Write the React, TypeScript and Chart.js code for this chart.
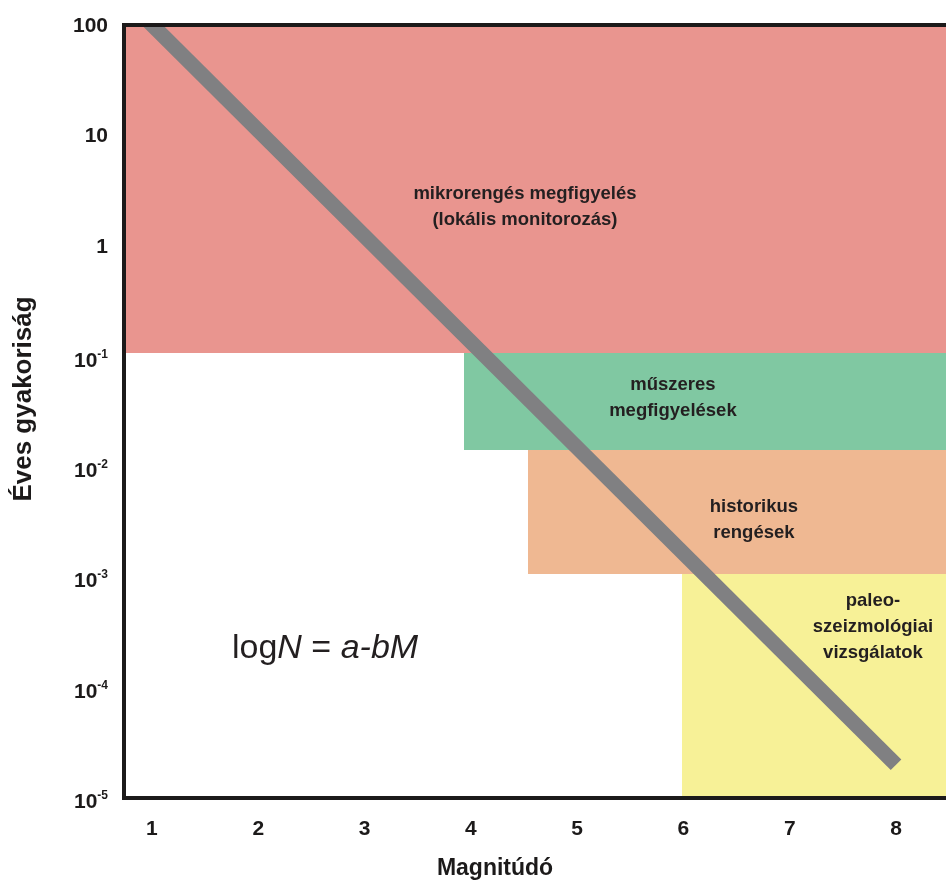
import React, { useEffect, useRef } from 'react';
import { Chart, registerables } from 'chart.js';

Chart.register(...registerables);

// ---- axes ----
const magnitudeTicks = [1, 2, 3, 4, 5, 6, 7, 8];
const frequencyTickExponents = [2, 1, 0, -1, -2, -3, -4, -5];
const magnitudeRange = [0.737, 8.47];
const frequencyRange = [1e-5, 100];
const xAxisTitle = 'Magnitúdó';
const yAxisTitle = 'Éves gyakoriság';

// ---- Gutenberg–Richter line ----
const grLineMagnitude = [0.85, 8];
const grLineFrequency = [140, 2e-5];

// ---- observation bands ----
const bandStartMagnitude = [0.737, 3.935, 4.537, 5.99];
const bandTopFrequency = [100, 0.107, 0.01416, 0.00107];
const bandBottomFrequency = [0.107, 0.01416, 0.00107, 1e-5];
const bandColors = ['#E9958F', '#80C8A2', '#EFB892', '#F7F197'];
const bandLabelLines = [
  ['mikrorengés megfigyelés', '(lokális monitorozás)'],
  ['műszeres', 'megfigyelések'],
  ['historikus', 'rengések'],
  ['paleo-', 'szeizmológiai', 'vizsgálatok'],
];
const bandLabelMagnitude = [4.509, 5.901, 6.663, 7.783];
const bandLabelFrequency = [2.25, 0.0419, 0.00333, 3.54e-4];

// ---- equation ----
const equationParts = ['log', 'N', ' = ', 'a-bM'];
const equationItalic = [false, true, false, true];
const equationMagnitude = 1.753;
const equationFrequency = 1.85e-4;

const FONT = "'Liberation Sans', Arial, Helvetica, sans-serif";
const AXIS_COLOR = '#1c1a1a';
const TEXT_COLOR = '#231f20';

const bandsPlugin = {
  id: 'bands',
  beforeDatasetsDraw(chart: any) {
    const { ctx, chartArea, scales } = chart;
    const x = scales.x;
    const y = scales.y;
    ctx.save();
    ctx.beginPath();
    ctx.rect(chartArea.left, chartArea.top, chartArea.width, chartArea.height);
    ctx.clip();
    bandStartMagnitude.forEach((m, i) => {
      const x0 = Math.round(x.getPixelForValue(m));
      const x1 = Math.round(x.getPixelForValue(magnitudeRange[1]));
      const y0 = Math.round(y.getPixelForValue(bandTopFrequency[i]));
      const y1 = Math.round(y.getPixelForValue(bandBottomFrequency[i]));
      ctx.fillStyle = bandColors[i];
      ctx.fillRect(x0, y0, x1 - x0, y1 - y0);
    });
    ctx.restore();
  },
};

const textPlugin = {
  id: 'texts',
  afterDraw(chart: any) {
    const { ctx, scales } = chart;
    const x = scales.x;
    const y = scales.y;
    ctx.save();

    // band labels
    ctx.fillStyle = TEXT_COLOR;
    ctx.textAlign = 'center';
    ctx.textBaseline = 'middle';
    ctx.font = `bold 18.5px ${FONT}`;
    const lh = 26;
    bandLabelLines.forEach((lines, i) => {
      const cx = x.getPixelForValue(bandLabelMagnitude[i]);
      const cy = y.getPixelForValue(bandLabelFrequency[i]);
      const start = cy - ((lines.length - 1) * lh) / 2;
      lines.forEach((ln, j) => ctx.fillText(ln, cx, start + j * lh));
    });

    // equation
    ctx.textAlign = 'left';
    ctx.textBaseline = 'alphabetic';
    let ex = x.getPixelForValue(equationMagnitude);
    const ey = y.getPixelForValue(equationFrequency);
    equationParts.forEach((p, i) => {
      ctx.font = `${equationItalic[i] ? 'italic ' : ''}34px ${FONT}`;
      ctx.fillText(p, ex, ey);
      ex += ctx.measureText(p).width;
    });

    // y tick labels (with superscript exponents)
    ctx.fillStyle = AXIS_COLOR;
    ctx.textBaseline = 'middle';
    const right = 108;
    frequencyTickExponents.forEach((e) => {
      const ty = y.getPixelForValue(Math.pow(10, e));
      if (e >= 0) {
        ctx.font = `bold 21px ${FONT}`;
        ctx.textAlign = 'right';
        ctx.fillText(String(Math.pow(10, e)), right, ty + 1);
      } else {
        ctx.font = `bold 12px ${FONT}`;
        const sup = String(e);
        const supW = ctx.measureText(sup).width;
        ctx.textAlign = 'right';
        ctx.fillText(sup, right, ty - 2);
        ctx.font = `bold 21px ${FONT}`;
        ctx.fillText('10', right - supW, ty + 4.5);
      }
    });

    // axis titles
    ctx.textAlign = 'center';
    ctx.textBaseline = 'middle';
    ctx.font = `bold 23px ${FONT}`;
    ctx.fillText(xAxisTitle, 495, 869);
    ctx.save();
    ctx.translate(24, 399);
    ctx.rotate(-Math.PI / 2);
    ctx.font = `bold 26px ${FONT}`;
    ctx.fillText(yAxisTitle, 0, 0);
    ctx.restore();

    ctx.restore();
  },
};

export default function App() {
  const canvasRef = useRef<HTMLCanvasElement | null>(null);

  useEffect(() => {
    if (!canvasRef.current) return;
    const noGrid = { display: true, color: 'rgba(0,0,0,0)', drawTicks: false };
    const border = { display: true, width: 4, color: AXIS_COLOR, z: 2 };
    const chart = new Chart(canvasRef.current, {
      type: 'line',
      data: {
        datasets: [
          {
            data: grLineMagnitude.map((m, i) => ({ x: m, y: grLineFrequency[i] })),
            borderColor: '#808082',
            borderWidth: 15,
            borderCapStyle: 'butt',
            pointRadius: 0,
            fill: false,
            tension: 0,
            clip: 0,
          } as any,
        ],
      },
      options: {
        animation: false,
        responsive: false,
        devicePixelRatio: 1,
        layout: { padding: { top: 25, left: 0, right: 0, bottom: 0 } },
        plugins: { legend: { display: false }, tooltip: { enabled: false } },
        events: [],
        scales: {
          x: {
            type: 'linear',
            position: 'bottom',
            min: magnitudeRange[0],
            max: magnitudeRange[1],
            afterBuildTicks: (s: any) => {
              s.ticks = magnitudeTicks.map((v) => ({ value: v }));
            },
            afterFit: (s: any) => {
              s.height = 85;
            },
            grid: noGrid,
            border,
            ticks: {
              autoSkip: false,
              maxRotation: 0,
              padding: 19,
              color: AXIS_COLOR,
              font: { family: FONT, size: 21, weight: 'bold' },
            },
          },
          xTop: {
            type: 'linear',
            position: 'top',
            min: magnitudeRange[0],
            max: magnitudeRange[1],
            afterFit: (s: any) => {
              s.height = 0;
            },
            grid: noGrid,
            border,
            ticks: { display: false },
          },
          y: {
            type: 'logarithmic',
            position: 'left',
            min: frequencyRange[0],
            max: frequencyRange[1],
            afterFit: (s: any) => {
              s.width = 124;
            },
            grid: noGrid,
            border,
            ticks: { display: false },
          },
        } as any,
      },
      plugins: [bandsPlugin, textPlugin],
    } as any);
    return () => chart.destroy();
  }, []);

  return (
    <div style={{ position: 'fixed', left: 0, top: 0, width: 946, height: 883, background: '#fff' }}>
      <canvas ref={canvasRef} width={946} height={883} style={{ display: 'block' }} />
    </div>
  );
}
